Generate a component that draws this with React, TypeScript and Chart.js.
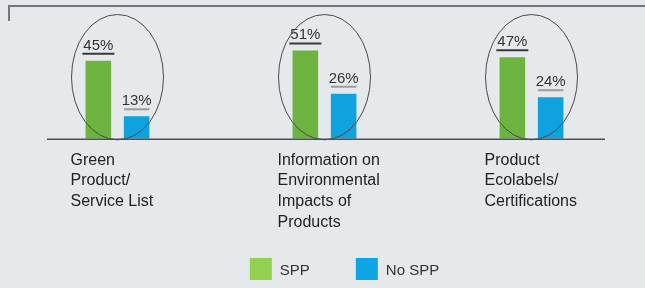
import React, { useEffect, useRef } from "react";
import { Chart, registerables } from "chart.js";

Chart.register(...registerables);

const categories: string[][] = [
  ["Green", "Product/", "Service List"],
  ["Information on", "Environmental", "Impacts of", "Products"],
  ["Product", "Ecolabels/", "Certifications"],
];
const seriesNames = ["SPP", "No SPP"];
const sppValues = [45, 51, 47];
const noSppValues = [13, 26, 24];
const barColors = ["#6cb33f", "#0ea2de"];
const legendColors = ["#92d050", "#0ea5e4"];
const underlineColors = ["#3a3a3a", "#9c9c9c"];

const BG = "#e5e9ec";
const FONT = "'Liberation Sans', Arial, sans-serif";

const decorPlugin = {
  id: "decor",
  beforeDraw(chart: any) {
    const ctx = chart.ctx;
    ctx.save();
    ctx.fillStyle = BG;
    ctx.fillRect(0, 0, chart.width, chart.height);
    // frame corner
    ctx.strokeStyle = "#72767a";
    ctx.lineWidth = 2;
    ctx.beginPath();
    ctx.moveTo(9, 21);
    ctx.lineTo(9, 6);
    ctx.lineTo(chart.width, 6);
    ctx.stroke();
    ctx.restore();
  },
  afterDatasetsDraw(chart: any) {
    const ctx = chart.ctx;
    const xs = chart.scales.x;
    const ys = chart.scales.y;
    const area = chart.chartArea;
    const y0 = ys.getPixelForValue(0);
    ctx.save();
    // baseline
    ctx.strokeStyle = "#505050";
    ctx.lineWidth = 1.5;
    ctx.beginPath();
    ctx.moveTo(area.left + 33, y0 + 0.5);
    ctx.lineTo(area.right - 30, y0 + 0.5);
    ctx.stroke();

    // value labels with underline
    ctx.font = `15px ${FONT}`;
    ctx.textAlign = "center";
    ctx.textBaseline = "alphabetic";
    chart.data.datasets.forEach((ds: any, di: number) => {
      const meta = chart.getDatasetMeta(di);
      meta.data.forEach((bar: any, i: number) => {
        const txt = `${ds.data[i]}%`;
        const lineY = bar.y - 7;
        const w = ctx.measureText(txt).width;
        ctx.fillStyle = "#333333";
        ctx.fillText(txt, bar.x, lineY - 4);
        ctx.strokeStyle = underlineColors[di];
        ctx.lineWidth = 2;
        ctx.beginPath();
        if (di === 0) {
          ctx.moveTo(bar.x - w / 2 - 1, lineY);
          ctx.lineTo(bar.x + w / 2 + 1, lineY);
        } else {
          ctx.moveTo(bar.x - bar.width / 2, lineY);
          ctx.lineTo(bar.x + bar.width / 2, lineY);
        }
        ctx.stroke();
      });
    });

    // ellipses around each group
    ctx.strokeStyle = "#4a4a4a";
    ctx.lineWidth = 1;
    const top = area.top - 3;
    const bottom = y0 + 1;
    categories.forEach((_c, i) => {
      const cx = xs.getPixelForValue(i);
      ctx.beginPath();
      ctx.ellipse(cx, (top + bottom) / 2, 46, (bottom - top) / 2, 0, 0, Math.PI * 2);
      ctx.stroke();
    });
    ctx.restore();
  },
  afterDraw(chart: any) {
    const ctx = chart.ctx;
    ctx.save();
    ctx.font = `15px ${FONT}`;
    ctx.textBaseline = "middle";
    ctx.textAlign = "left";
    const box = 22;
    const gapText = 8;
    const gapItem = 46;
    const items = chart.data.datasets.map((ds: any) => ds.label as string);
    let total = 0;
    items.forEach((t: string, i: number) => {
      total += box + gapText + ctx.measureText(t).width + (i < items.length - 1 ? gapItem : 0);
    });
    let x = chart.width / 2 - total / 2 + 22;
    const yTop = 258;
    items.forEach((t: string, i: number) => {
      ctx.fillStyle = legendColors[i];
      ctx.fillRect(x, yTop, box, box);
      ctx.fillStyle = "#333333";
      ctx.fillText(t, x + box + gapText, yTop + box / 2 + 2);
      x += box + gapText + ctx.measureText(t).width + gapItem;
    });
    ctx.restore();
  },
};

export default function App() {
  const ref = useRef<HTMLCanvasElement | null>(null);
  useEffect(() => {
    if (!ref.current) return;
    const chart = new Chart(ref.current, {
      type: "bar",
      data: {
        labels: categories,
        datasets: [
          {
            label: seriesNames[0],
            data: sppValues,
            backgroundColor: barColors[0],
            barPercentage: 0.668,
            categoryPercentage: 0.37,
          },
          {
            label: seriesNames[1],
            data: noSppValues,
            backgroundColor: barColors[1],
            barPercentage: 0.668,
            categoryPercentage: 0.37,
          },
        ],
      },
      options: {
        animation: false,
        responsive: false,
        maintainAspectRatio: false,
        layout: { padding: { left: 14, right: 10, top: 17.5, bottom: 52 } },
        plugins: {
          legend: { display: false },
          tooltip: { enabled: false },
        },
        scales: {
          x: {
            grid: { display: false },
            border: { display: false },
            ticks: {
              align: "start",
              labelOffset: -47,
              padding: 3,
              maxRotation: 0,
              autoSkip: false,
              color: "#222222",
              font: { family: FONT, size: 16, lineHeight: 1.3 },
            },
          },
          y: {
            display: false,
            min: 0,
            max: 70,
          },
        },
      },
      plugins: [decorPlugin],
    } as any);
    return () => chart.destroy();
  }, []);
  return (
    <div style={{ position: "fixed", left: 0, top: 0, width: 645, height: 288, background: BG }}>
      <canvas ref={ref} width={645} height={288} style={{ display: "block" }} />
    </div>
  );
}
